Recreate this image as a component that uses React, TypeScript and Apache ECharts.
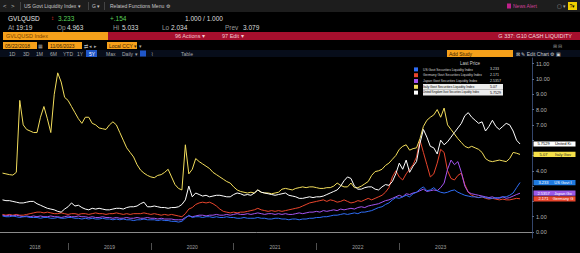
import React, { useEffect, useRef } from "react";
import * as echarts from "echarts";

// ---------- data ----------
const seriesNames = [
  "US Govt Securities Liquidity Index",
  "Germany Govt Securities Liquidity Index",
  "Japan Govt Securities Liquidity Index",
  "Italy Govt Securities Liquidity Index",
  "United Kingdom Govt Securities Liquidity Index",
];
const lastPrices = ["3.233", "2.171", "2.5357", "5.07", "5.7529"];
const tagNames = ["US Govt I", "Germany G", "Japan Go", "Italy Gov", "United Ki"];
const seriesColors = ["#2f6df6", "#e8452c", "#a454f0", "#f2dd5c", "#ffffff"];
const tagColors = ["#1f7ae0", "#e8452c", "#9b59e8", "#f5e04a", "#ffffff"];
const tagTextColors = ["#ffffff", "#ffffff", "#ffffff", "#222222", "#000000"];

// semi-monthly observations starting mid-March 2018 (fractional years)
const startYear = 2018.2083;
const stepYears = 1 / 24;

const usValues = [
  1.05, 1.0, 1.0, 1.05, 1.0, 0.95, 1.0, 1.0, 0.95, 0.95,
  0.95, 0.9, 0.95, 0.95, 0.9, 0.9, 0.95, 0.9, 0.9, 0.95,
  0.95, 0.9, 0.9, 0.85, 0.9, 0.85, 0.9, 0.85, 0.85, 0.9,
  0.85, 0.85, 0.8, 0.85, 0.8, 0.85, 0.8, 0.8, 0.75, 0.8,
  0.8, 0.85, 0.8, 0.8, 0.8, 0.75, 0.8, 0.75, 0.75, 0.7,
  0.7, 0.65, 0.7, 0.9, 1.1, 0.95, 1.0, 1.0, 0.95, 1.0,
  1.0, 0.95, 1.0, 0.95, 0.95, 1.0, 0.95, 0.95, 0.9, 0.9,
  0.95, 0.9, 0.9, 0.9, 0.95, 0.9, 0.9, 0.85, 0.85, 0.9,
  0.9, 0.85, 0.85, 0.8, 0.85, 0.85, 0.8, 0.85, 0.85, 0.9,
  0.9, 0.95, 0.95, 1.0, 1.0, 1.05, 1.1, 1.1, 1.15, 1.2,
  1.15, 1.2, 1.25, 1.2, 1.3, 1.3, 1.35, 1.4, 1.5, 1.6,
  1.65, 1.8, 1.9, 2.1, 2.25, 2.2, 2.3, 2.4, 2.3, 2.5,
  2.6, 2.8, 2.95, 2.7, 2.75, 2.9, 2.7, 2.6, 2.55, 2.6,
  2.7, 2.75, 2.6, 2.5, 2.4, 2.35, 2.3, 2.3, 2.25, 2.3,
  2.25, 2.2, 2.2, 2.25, 2.2, 2.3, 2.3, 2.4, 2.55, 2.9, 3.233,
];
const germanyValues = [
  1.15, 1.1, 1.15, 1.1, 1.15, 1.1, 1.1, 1.15, 1.2, 1.25,
  1.3, 1.3, 1.25, 1.3, 1.25, 1.2, 1.2, 1.25, 1.2, 1.15,
  1.2, 1.2, 1.15, 1.2, 1.2, 1.15, 1.2, 1.25, 1.2, 1.2,
  1.15, 1.2, 1.2, 1.25, 1.2, 1.15, 1.2, 1.15, 1.2, 1.2,
  1.2, 1.25, 1.2, 1.15, 1.2, 1.15, 1.1, 1.15, 1.1, 1.15,
  1.1, 1.05, 1.0, 1.2, 1.5, 1.6, 1.8, 1.9, 1.95, 1.9,
  1.95, 1.85, 1.7, 1.5, 1.35, 1.3, 1.25, 1.3, 1.25, 1.3,
  1.3, 1.35, 1.4, 1.45, 1.55, 1.45, 1.4, 1.35, 1.4, 1.35,
  1.4, 1.35, 1.4, 1.45, 1.5, 1.55, 1.6, 1.7, 1.8, 1.9,
  1.95, 2.0, 2.05, 2.1, 2.0, 2.1, 2.05, 1.95, 2.0, 2.1,
  2.0, 1.9, 1.95, 2.05, 2.0, 2.1, 2.2, 2.1, 2.2, 2.3,
  2.4, 2.6, 2.9, 3.6, 4.0, 3.6, 3.4, 3.8, 4.1, 4.4,
  4.9, 6.0, 5.2, 4.4, 3.6, 3.8, 4.5, 5.4, 5.2, 4.0,
  3.5, 3.4, 3.7, 3.85, 3.1, 2.6, 2.4, 2.3, 2.25, 2.3,
  2.2, 2.15, 2.2, 2.15, 2.1, 2.15, 2.1, 2.1, 2.15, 2.2, 2.171,
];
const japanValues = [
  1.1, 1.05, 1.1, 1.05, 1.1, 1.05, 1.0, 1.05, 1.0, 1.05,
  1.0, 1.05, 1.0, 1.0, 1.05, 1.0, 1.0, 0.95, 1.0, 1.05,
  1.0, 1.0, 1.05, 1.0, 1.0, 0.95, 1.0, 0.95, 0.95, 1.0,
  0.95, 0.95, 0.9, 0.95, 0.9, 0.9, 0.95, 0.9, 0.9, 0.95,
  0.9, 0.9, 0.95, 0.9, 0.9, 0.85, 0.9, 0.85, 0.85, 0.85,
  0.8, 0.8, 0.8, 0.95, 1.05, 1.0, 1.05, 1.1, 1.1, 1.05,
  1.1, 1.1, 1.15, 1.1, 1.1, 1.15, 1.1, 1.15, 1.2, 1.15,
  1.15, 1.2, 1.15, 1.2, 1.25, 1.2, 1.15, 1.2, 1.2, 1.15,
  1.2, 1.15, 1.2, 1.15, 1.15, 1.2, 1.25, 1.2, 1.25, 1.3,
  1.3, 1.35, 1.3, 1.4, 1.35, 1.4, 1.45, 1.4, 1.5, 1.45,
  1.5, 1.55, 1.5, 1.6, 1.65, 1.6, 1.7, 1.75, 1.8, 1.85,
  1.95, 2.05, 2.1, 2.2, 2.3, 2.4, 2.3, 2.5, 2.45, 2.55,
  2.6, 2.7, 2.8, 2.65, 2.7, 2.75, 2.7, 2.9, 3.2, 4.1,
  4.7, 4.4, 4.6, 3.9, 3.0, 2.6, 2.5, 2.45, 2.4, 2.35,
  2.3, 2.25, 2.3, 2.2, 2.25, 2.3, 2.2, 2.25, 2.35, 2.45, 2.5357,
];
const italyValues = [
  3.85, 3.8, 3.75, 3.72, 3.9, 8.6, 7.0, 6.7, 6.6, 6.5,
  6.5, 7.5, 8.2, 7.4, 6.5, 9.0, 10.4, 9.8, 8.8, 8.6,
  8.2, 7.8, 7.4, 7.1, 7.5, 7.5, 7.1, 7.0, 6.8, 6.75,
  6.7, 7.0, 7.2, 7.0, 6.5, 6.0, 5.5, 5.2, 4.9, 4.4,
  4.05, 3.85, 3.7, 3.6, 3.55, 3.7, 3.75, 3.9, 4.1, 3.6,
  3.1, 2.85, 2.75, 5.7, 3.8, 4.1, 4.8, 4.6, 4.45, 4.3,
  4.15, 3.9, 3.75, 3.6, 3.45, 3.3, 3.2, 2.95, 2.75, 2.65,
  2.6, 2.55, 2.6, 2.55, 2.75, 2.6, 2.55, 2.55, 2.5, 2.55,
  2.6, 2.8, 2.85, 2.8, 2.75, 2.85, 2.9, 2.95, 2.9, 2.95,
  2.95, 2.9, 2.85, 2.85, 2.9, 2.9, 3.0, 3.2, 3.05, 2.95,
  2.95, 3.2, 2.9, 2.9, 3.0, 3.15, 3.3, 3.7, 3.95, 4.0,
  4.1, 4.35, 4.5, 4.75, 5.0, 5.4, 5.6, 5.7, 5.35, 5.45,
  5.5, 6.1, 6.9, 7.3, 7.5, 7.65, 8.0, 7.5, 8.1, 7.0,
  6.7, 6.4, 6.1, 5.85, 5.6, 5.5, 5.6, 5.5, 5.4, 5.2,
  4.8, 4.65, 4.6, 4.65, 4.7, 4.65, 4.6, 4.8, 5.2, 5.15, 5.07,
];
const ukValues = [
  2.1, 2.05, 2.05, 2.0, 1.95, 1.9, 1.9, 1.95, 2.0, 2.0,
  1.85, 1.75, 1.65, 1.55, 1.5, 1.45, 1.35, 1.3, 1.5, 1.65,
  1.9, 1.7, 1.75, 1.6, 1.5, 1.45, 1.55, 1.5, 1.55, 1.5,
  1.45, 1.45, 1.5, 1.55, 1.55, 1.5, 1.6, 1.65, 1.65, 1.7,
  1.85, 1.95, 1.65, 1.65, 1.7, 1.65, 1.6, 1.6, 1.55, 1.6,
  1.6, 1.65, 1.8, 2.1, 3.0, 2.3, 2.55, 2.45, 2.35, 2.4,
  2.3, 2.35, 2.4, 2.4, 2.35, 2.3, 2.3, 2.45, 2.55, 2.5,
  2.4, 2.45, 2.4, 2.55, 2.75, 2.6, 2.55, 2.5, 2.45, 2.4,
  2.45, 2.5, 2.55, 2.4, 2.35, 2.3, 2.2, 2.2, 2.25, 2.3,
  2.25, 2.3, 2.3, 2.35, 2.45, 2.55, 2.65, 2.75, 3.0, 3.35,
  3.6, 3.5, 3.0, 2.8, 2.8, 2.9, 2.95, 2.95, 2.8, 2.75,
  2.95, 3.1, 3.05, 3.3, 3.8, 4.5, 4.1, 4.7, 3.9, 4.3,
  4.6, 5.8, 6.7, 6.2, 5.6, 5.5, 5.1, 6.0, 5.7, 5.9,
  6.2, 6.5, 6.8, 7.1, 7.6, 7.8, 7.5, 7.3, 7.1, 7.2,
  6.6, 6.9, 7.3, 6.9, 6.7, 6.9, 7.1, 7.0, 6.6, 6.0, 5.7529,
];
const allValues = [usValues, germanyValues, japanValues, italyValues, ukValues];
const seriesZ = [4, 2, 3, 5, 6];

const yearTickValues = [2019, 2020, 2021, 2022, 2023];
const yearLabelValues = [2018.6, 2019.5, 2020.5, 2021.5, 2022.5, 2023.5];
const priceTickValues = [0, 1, 2, 3, 4, 5, 6, 7, 8, 9, 10, 11];
const priceLabelValues = [0, 1, 4, 7, 8, 9, 10, 11];

const xMin = 2018.178;
const xMax = 2024.603;
const yMin = -0.39;
const yMax = 11.37;

// ---------- header UI ----------
const FONT = '"Liberation Sans", Arial, sans-serif';
const txt = (x: number, y: number, text: string, fill: string, size = 5.5, extra: any = {}) => ({
  type: "text",
  x,
  y,
  silent: true,
  style: { text, fill, fontSize: size, fontFamily: FONT, verticalAlign: "middle", align: "left", ...extra },
});
const box = (x: number, y: number, w: number, h: number, fill: string) => ({
  type: "rect",
  silent: true,
  shape: { x, y, width: w, height: h },
  style: { fill },
});
const vline = (x: number, y1: number, y2: number, stroke: string) => ({
  type: "line",
  silent: true,
  shape: { x1: x, y1, x2: x, y2 },
  style: { stroke, lineWidth: 1 },
});

const headerGraphics: any[] = [
  box(0, 0, 580, 12, "#1d1d1d"),
  txt(3, 6, "<", "#bbbbbb", 6),
  txt(11, 6, ">", "#bbbbbb", 6),
  vline(20.5, 2, 10, "#444"),
  txt(24, 6, "US Govt Liquidity Index ▾", "#c8c8c8", 5),
  vline(88.5, 2, 10, "#444"),
  txt(92, 6, "G ▾", "#c8c8c8", 5),
  vline(104.5, 2, 10, "#444"),
  txt(110, 6, "Related Functions Menu ⚙", "#c8c8c8", 5),
  box(507, 3.5, 4, 5, "#c0208a"),
  txt(513, 6, "News Alert", "#d0409a", 5),
  txt(557, 6, "▢ ▾", "#aaaaaa", 5),
  box(568, 2, 9, 8, "#f0d000"),
  txt(569.5, 6, "?▾", "#000000", 5),

  txt(8, 18, "GVLQUSD", "#e6e6e6", 6.5),
  txt(51, 18, "↕", "#e03030", 6),
  txt(58, 18, "3.233", "#5ad35a", 6.5),
  txt(110, 18, "+.154", "#5ad35a", 6.5),
  txt(185, 18, "1.000 / 1.000", "#dddddd", 6.5),

  txt(8, 27, "At", "#9a9a9a", 6.5),
  txt(16, 27, "19:19", "#dddddd", 6.5),
  txt(57, 27, "Op", "#9a9a9a", 6.5),
  txt(67, 27, "4.963", "#dddddd", 6.5),
  txt(113, 27, "Hi", "#9a9a9a", 6.5),
  txt(122, 27, "5.033", "#dddddd", 6.5),
  txt(162, 27, "Lo", "#9a9a9a", 6.5),
  txt(171, 27, "2.034", "#dddddd", 6.5),
  txt(225, 27, "Prev", "#9a9a9a", 6.5),
  txt(243, 27, "3.079", "#dddddd", 6.5),

  box(3, 32, 105, 8, "#f5a01a"),
  txt(6, 36, "GVLQUSD Index", "#7a4500", 5.5),
  box(108, 32, 472, 8, "#a50f2d"),
  txt(175, 36, "96 Actions ▾", "#f4c8d0", 5.5),
  txt(222, 36, "97 Edit ▾", "#f4c8d0", 5.5),
  txt(572, 36, "G 337: G10 CASH LIQUIDITY", "#f4d8dc", 5.5, { align: "right" }),

  box(3, 42, 34, 7, "#f5a01a"),
  txt(5, 45.5, "05/22/2018", "#3a2000", 5),
  txt(38, 45.5, "▦", "#aaaaaa", 5),
  box(48, 42, 34, 7, "#f5a01a"),
  txt(50, 45.5, "11/06/2023", "#3a2000", 5),
  txt(84, 45.5, "⇄ ◂ ▸", "#aaaaaa", 5),
  box(107, 42, 30, 7, "#f5a01a"),
  txt(109, 45.5, "Local CCY ▾", "#3a2000", 5),
  txt(139, 45.5, "▾", "#aaaaaa", 5),
  txt(553, 45.5, "⊞ ⊟", "#888888", 5),

  box(0, 50, 580, 7, "#070d1a"),
  box(86, 50, 11, 7, "#1f56c8"),
  txt(9, 53.5, "1D", "#aaaaaa", 5),
  txt(23, 53.5, "3D", "#aaaaaa", 5),
  txt(36, 53.5, "1M", "#aaaaaa", 5),
  txt(50, 53.5, "6M", "#aaaaaa", 5),
  txt(63, 53.5, "YTD", "#aaaaaa", 5),
  txt(77, 53.5, "1Y", "#aaaaaa", 5),
  txt(89, 53.5, "5Y", "#ffffff", 5),
  txt(106, 53.5, "Max", "#aaaaaa", 5),
  txt(122, 53.5, "Daily ▾", "#aaaaaa", 5),
  box(140, 50.5, 6, 6, "#1f56c8"),
  txt(151, 53.5, "⌇", "#aaaaaa", 5),
  txt(181, 53.5, "Table", "#aaaaaa", 5),
  box(447, 50, 66, 7, "#f5a01a"),
  txt(449, 53.5, "Add Study", "#3a2000", 5),
  txt(516, 53.5, "⊠ ✎ Edit Chart ⚙ ▣", "#cccccc", 5),

  txt(470, 63, "Last Price", "#cccccc", 4.5, { align: "center" }),
];

export default function App() {
  const ref = useRef<HTMLDivElement>(null);
  useEffect(() => {
    document.body.style.margin = "0";
    document.body.style.background = "#000";
    const chart = echarts.init(ref.current!, null, { renderer: "svg" });

    const series = seriesNames.map((name, i) => ({
      name,
      type: "line",
      z: seriesZ[i],
      showSymbol: false,
      symbol: "none",
      color: seriesColors[i],
      lineStyle: { width: 1, color: seriesColors[i] },
      data: allValues[i].map((v, k) => [startYear + k * stepYears, v]),
      markPoint: {
        silent: true,
        symbol: "rect",
        symbolSize: [42, 5.2],
        symbolOffset: [22.5, 0],
        itemStyle: { color: tagColors[i] },
        label: {
          show: true,
          position: "inside",
          formatter: `{a|${lastPrices[i]}}{b|${tagNames[i]}}`,
          rich: {
            a: { width: 17, fontSize: 4, lineHeight: 4.4, color: tagTextColors[i], fontFamily: FONT },
            b: { width: 22, fontSize: 4, lineHeight: 4.4, color: tagTextColors[i], fontFamily: FONT },
          },
        },
        data: [{ coord: [xMax, allValues[i][allValues[i].length - 1]] }],
      },
    }));

    const option: any = {
      animation: false,
      backgroundColor: "#000000",
      graphic: headerGraphics,
      grid: { left: 0, right: 48, top: 58, bottom: 15, containLabel: false },
      legend: {
        orient: "vertical",
        left: 414,
        top: 66.5,
        padding: 0,
        itemGap: 0,
        itemWidth: 4,
        itemHeight: 4,
        icon: "rect",
        selectedMode: false,
        data: seriesNames.map((name, i) => {
          const item: any = { name, itemStyle: { color: seriesColors[i] } };
          if (i >= 3) item.textStyle = { color: "#000000", backgroundColor: "#ececec" };
          return item;
        }),
        textStyle: {
          color: "#d8d8d8",
          fontSize: 3.3,
          fontFamily: FONT,
          lineHeight: 5.8,
          rich: {
            n: { width: 67, fontSize: 3.3, fontFamily: FONT },
            u: { width: 67, fontSize: 2.7, fontFamily: FONT },
            v: { width: 13, fontSize: 3.6, fontFamily: FONT },
          },
        },
        formatter: (name: string) => {
          const i = seriesNames.indexOf(name);
          const key = name.length > 40 ? "u" : "n";
          return `{${key}|${name}}{v|${lastPrices[i]}}`;
        },
      },
      xAxis: [
        {
          type: "value",
          min: xMin,
          max: xMax,
          position: "bottom",
          axisLine: { show: true, lineStyle: { color: "#8a8a8a", width: 1 } },
          axisTick: { show: false },
          splitLine: { show: false },
          axisLabel: {
            show: true,
            customValues: yearLabelValues,
            formatter: (v: number) => String(Math.floor(v)),
            color: "#a0a0a0",
            fontSize: 5,
            fontFamily: FONT,
            margin: 6,
          },
        },
        {
          type: "value",
          min: xMin,
          max: xMax,
          position: "bottom",
          offset: 5,
          axisLine: { show: false },
          axisTick: {
            show: true,
            customValues: yearTickValues,
            length: 7,
            lineStyle: { color: "#505050", width: 1 },
          },
          axisLabel: { show: false },
          splitLine: { show: false },
        },
      ],
      yAxis: {
        type: "value",
        position: "right",
        min: yMin,
        max: yMax,
        axisLine: { show: true, lineStyle: { color: "#33456b", width: 1 } },
        axisTick: {
          show: true,
          customValues: priceTickValues,
          length: 2,
          lineStyle: { color: "#5a6a8a" },
        },
        splitLine: { show: false },
        axisLabel: {
          show: true,
          customValues: priceLabelValues,
          formatter: (v: number) => v.toFixed(2),
          color: "#b4b4b4",
          fontSize: 5.5,
          fontFamily: FONT,
          margin: 4,
        },
      },
      series,
    };

    chart.setOption(option);
    return () => chart.dispose();
  }, []);
  return <div ref={ref} style={{ width: 580, height: 253 }} />;
}
